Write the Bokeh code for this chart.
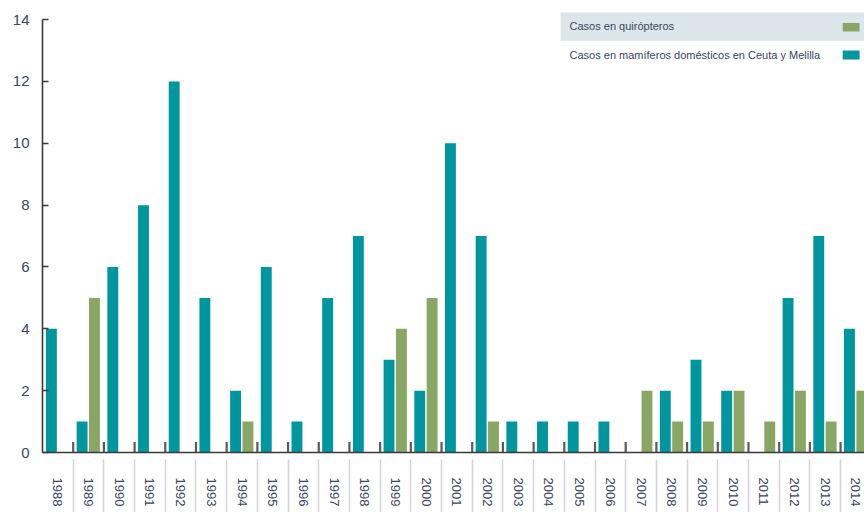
from bokeh.plotting import figure
from bokeh.models import (ColumnDataSource, Range1d, FixedTicker,
                          BoxAnnotation, Label)
from bokeh.embed import file_html
from bokeh.resources import INLINE

years = ["1988", "1989", "1990", "1991", "1992", "1993", "1994", "1995", "1996",
         "1997", "1998", "1999", "2000", "2001", "2002", "2003", "2004", "2005",
         "2006", "2007", "2008", "2009", "2010", "2011", "2012", "2013", "2014"]
domesticos = [4, 1, 6, 8, 12, 5, 2, 6, 1, 5, 7, 3, 2, 10, 7, 1, 1, 1, 1, 0, 2, 3, 2, 0, 5, 7, 4]
quiropteros = [0, 5, 0, 0, 0, 0, 1, 0, 0, 0, 0, 4, 5, 0, 1, 0, 0, 0, 0, 2, 1, 1, 2, 1, 2, 1, 2]
y_ticks = [0, 2, 4, 6, 8, 10, 12, 14]
legend_labels = ["Casos en quirópteros", "Casos en mamíferos domésticos en Ceuta y Melilla"]

TEAL = "#00969f"
GREEN = "#89a664"
TXT = "#3a4560"
FONT = "Liberation Sans"

n = len(years)
idx = list(range(n))
src = ColumnDataSource(dict(
    xd=[i + 0.29 for i in idx],
    xq=[i + 0.693 for i in idx],
    dom=domesticos,
    qui=quiropteros,
))

p = figure(width=864, height=512, output_backend="svg", toolbar_location=None,
           x_range=Range1d(0, 26.78), y_range=Range1d(0, 14.36),
           min_border_left=42, min_border_right=0, min_border_top=8,
           min_border_bottom=60)
p.outline_line_color = None
p.xgrid.visible = False
p.ygrid.visible = False
p.background_fill_color = "white"

p.vbar(x="xd", top="dom", width=0.355, bottom=0, source=src,
       fill_color=TEAL, line_color=None)
p.vbar(x="xq", top="qui", width=0.355, bottom=0, source=src,
       fill_color=GREEN, line_color=None)

# x axis: labels at category centres, separators as minor ticks
centers = [i + 0.5 for i in idx]
bounds = [float(i) for i in range(1, n + 1)]
xa = p.xaxis[0]
xa.ticker = FixedTicker(ticks=centers, minor_ticks=bounds)
xa.major_label_overrides = {c: y for c, y in zip(centers, years)}
xa.major_tick_line_color = None
xa.major_tick_in = 0
xa.major_tick_out = 0
xa.minor_tick_line_color = "#d4d4d4"
xa.minor_tick_line_width = 1.5
xa.minor_tick_in = -7
xa.minor_tick_out = 60
xa.major_label_orientation = "vertical"
xa.major_label_standoff = -35
xa.major_label_text_font = FONT
xa.major_label_text_font_size = "13px"
xa.major_label_text_color = TXT
xa.axis_line_color = "#3a3a3a"
xa.axis_line_width = 1.6

# dark category-boundary ticks just above the axis line
p.segment(x0=bounds, y0=[0] * n, x1=bounds, y1=[0.34] * n,
          line_color="#5a5a5a", line_width=2.2)

ya = p.yaxis[0]
ya.ticker = FixedTicker(ticks=y_ticks)
ya.bounds = (0, 14)
ya.major_tick_in = 6
ya.major_tick_out = 0
ya.minor_tick_line_color = None
ya.major_tick_line_color = "#3a3a3a"
ya.major_tick_line_width = 1.5
ya.axis_line_color = "#3a3a3a"
ya.axis_line_width = 1.6
ya.major_label_standoff = 13
ya.major_label_text_font = FONT
ya.major_label_text_font_size = "15px"
ya.major_label_text_color = TXT

# legend (custom, label left / swatch right)
p.add_layout(BoxAnnotation(left=16.88, right=26.78, bottom=13.32, top=14.23,
                           fill_color="#dce6ea", fill_alpha=1, line_color=None))
p.add_layout(Label(x=17.17, y=13.78, text=legend_labels[0], text_baseline="middle",
                   text_font=FONT, text_font_size="11px", text_color=TXT))
p.add_layout(Label(x=17.17, y=12.86, text=legend_labels[1], text_baseline="middle",
                   text_font=FONT, text_font_size="11px", text_color=TXT))
p.add_layout(BoxAnnotation(left=26.07, right=26.62, bottom=13.62, top=13.89,
                           fill_color=GREEN, fill_alpha=1, line_color=None))
p.add_layout(BoxAnnotation(left=26.07, right=26.62, bottom=12.71, top=13.0,
                           fill_color=TEAL, fill_alpha=1, line_color=None))

open("out.html", "w").write(file_html(p, INLINE))
